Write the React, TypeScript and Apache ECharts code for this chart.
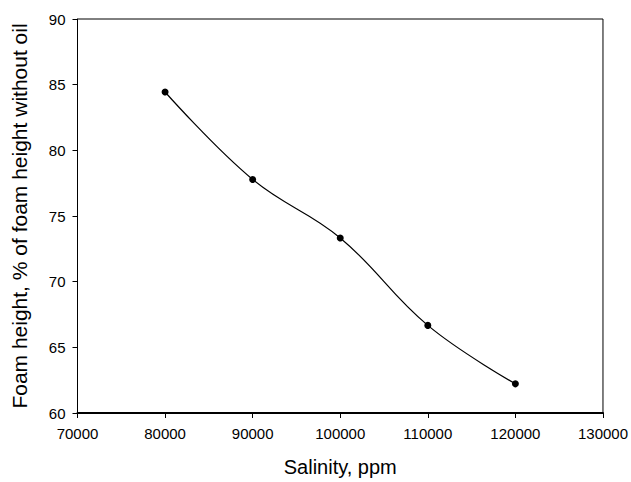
import React, { useEffect, useRef } from "react";
import * as echarts from "echarts";

const salinity = [80000, 90000, 100000, 110000, 120000];
const foamHeight = [84.44, 77.78, 73.33, 66.67, 62.22];
const xTitle = "Salinity, ppm";
const yTitle = "Foam height, % of foam height without oil";

export default function App() {
  const ref = useRef<HTMLDivElement>(null);
  useEffect(() => {
    if (!ref.current) return;
    const chart = echarts.init(ref.current, undefined, { renderer: "svg" });
    const font = "'Liberation Sans', Arial, sans-serif";
    chart.setOption({
      animation: false,
      backgroundColor: "#ffffff",
      grid: {
        left: 77.5,
        right: 28,
        top: 19,
        bottom: 67.5,
        show: true,
        borderColor: "#000",
        borderWidth: 1,
        backgroundColor: "transparent",
      },
      xAxis: {
        type: "value",
        min: 70000,
        max: 130000,
        interval: 10000,
        name: xTitle,
        nameLocation: "middle",
        nameGap: 44,
        nameTextStyle: { fontFamily: font, fontSize: 20, color: "#000" },
        axisLine: { show: true, onZero: false, lineStyle: { color: "#000", width: 2 } },
        axisTick: { show: true, length: 5, lineStyle: { color: "#000", width: 1 } },
        axisLabel: {
          fontFamily: font,
          fontSize: 15,
          color: "#000",
          margin: 13,
          formatter: (v: number) => String(v),
        },
        splitLine: { show: false },
      },
      yAxis: {
        type: "value",
        min: 60,
        max: 90,
        interval: 5,
        name: yTitle,
        nameLocation: "middle",
        nameGap: 48,
        nameTextStyle: { fontFamily: font, fontSize: 21, color: "#000" },
        axisLine: { show: true, onZero: false, lineStyle: { color: "#000", width: 1 } },
        axisTick: { show: true, length: 5, lineStyle: { color: "#000", width: 1 } },
        axisLabel: {
          fontFamily: font,
          fontSize: 15,
          color: "#000",
          margin: 12,
          formatter: (v: number) => String(v),
        },
        splitLine: { show: false },
      },
      series: [
        {
          type: "line",
          data: salinity.map((s, i) => [s, foamHeight[i]]),
          smooth: 0.4,
          symbol: "circle",
          symbolSize: 7,
          itemStyle: { color: "#000" },
          lineStyle: { color: "#000", width: 1.2 },
        },
      ],
    });
    return () => chart.dispose();
  }, []);
  return (
    <div
      ref={ref}
      style={{ position: "fixed", left: 0, top: 0, width: 631, height: 482, background: "#fff" }}
    />
  );
}
